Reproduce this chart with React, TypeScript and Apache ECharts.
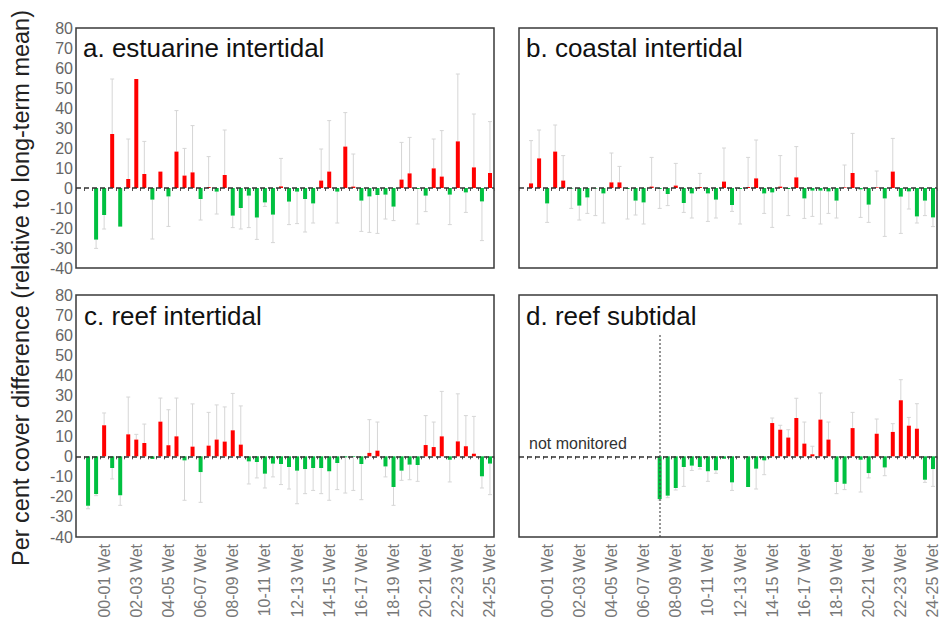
import React, { useEffect, useRef } from "react";
import * as echarts from "echarts";

const years: string[] = [
  "99-00", "00-01", "01-02", "02-03", "03-04", "04-05", "05-06", "06-07", "07-08",
  "08-09", "09-10", "10-11", "11-12", "12-13", "13-14", "14-15", "15-16", "16-17",
  "17-18", "18-19", "19-20", "20-21", "21-22", "22-23", "23-24", "24-25",
];
const seasons: string[] = ["Dry", "Wet"];
const categories: string[] = years.flatMap((y) => seasons.map((s) => `${y} ${s}`));

const yTicks = { min: -40, max: 80, step: 10 };

type V = number | null;

// a. estuarine intertidal
const estuarineVals: V[] = [
  null, null, -25.8, -13.5, 27, -19.3, 4.5, 54.5, 7, -5.8, 8.2, -4.2, 18.2, 6.2, 7.8, -5.5,
  0.5, -1.8, 6.5, -13.8, -10, -3.8, -14.7, -7.2, -13.3, 0.8, -6.8, -1.8, -5.5, -7.7, 3.7, 8.2,
  -1.8, 20.7, 0.7, -6.3, -4.2, -3.5, -3.3, -9.3, 4.2, 7.3, -0.5, -3.8, 9.8, 5.7, -3.3, 23.3,
  -2.2, 10.3, -6.7, 7.5,
];
const estuarineErr: number[] = [
  0, 0, 4.4, 7, 27.5, 0, 20, 0, 16.3, 19.7, 0, 15, 20.5, 13.6, 23.4, 10.5,
  15.2, 11.2, 22.5, 6, 10.5, 16, 11, 2, 14, 14, 11.5, 16, 16.5, 9.8, 15.8, 25.5,
  15.7, 17, 16.3, 15.4, 18, 19.2, 12.2, 7, 18.6, 18, 17.5, 8, 14.7, 23, 15, 33.7,
  10, 26.7, 19.6, 25.7,
];

// b. coastal intertidal
const coastalVals: V[] = [
  null, 2.3, 14.8, -7.7, 18.2, 3.7, -0.3, -8.8, -4.7, -0.3, -2.7, 2.8, 2.8, -0.5, -6.3, -7.2,
  0.7, -0.5, -3, 1.2, -7.5, -2.7, 0.5, -2.7, -5.8, 3.2, -8.5, -0.5, 0.5, 4.8, -2.7, -2.2,
  0.7, -0.5, 5.3, -5.2, -1.3, -1.3, -1.7, -6.3, 0.3, 7.5, -0.7, -8.3, 0.3, -5.2, 8.2, -4.3,
  -1.7, -14.2, -6.3, -14.7,
];
const coastalErr: number[] = [
  0, 21.4, 14.2, 9.5, 13.3, 12.5, 9.9, 7.2, 8, 13.5, 14.8, 14.7, 8, 15, 7.2, 10.8,
  14.6, 9.7, 5.8, 11.1, 4.7, 12.3, 6.8, 14, 9.2, 16.8, 3.2, 17.5, 14.8, 19.2, 10, 17.5,
  15.5, 13.3, 15.4, 10, 12.9, 16.7, 11, 8.7, 11.2, 19.8, 14, 8.9, 8.2, 19, 16.6, 18.4,
  8.8, 3.3, 7.5, 4.6,
];

// c. reef intertidal
const reefInterVals: V[] = [
  null, -24.5, -18.7, 15.4, -5.8, -19.3, 10.9, 8.3, 6.6, -1.3, 17.2, 5.5, 9.9, -2, 4.8, -7.8,
  5.3, 8.3, 7.3, 12.9, 5.8, -2.5, -2.8, -8.6, -3.6, -3.8, -5.3, -7.1, -6.3, -5.8, -5.8, -7.4,
  -3.3, -0.5, -0.3, -3.8, 1.7, 2.8, -5, -15.2, -7.1, -4.1, -4.3, 5.6, 4.6, 9.9, -1.7, 7.4,
  5, 1.3, -9.9, -3.6,
];
const reefInterErr: number[] = [
  0, 1.5, 0.8, 6.1, 5.4, 5, 18.5, 2.6, 9.4, 0, 11.7, 17.6, 19, 19.8, 21.2, 15,
  16.5, 17.2, 17.2, 18.3, 19.2, 11.2, 7.9, 7.1, 6.6, 10.2, 10.9, 16.4, 12.2, 11.1, 12.7, 14.4,
  13.2, 17.7, 16.6, 17.7, 16.5, 14.2, 5.2, 9.1, 4.8, 7.5, 8.1, 14.6, 12.4, 22.3, 11, 23.6,
  15.2, 18.5, 5.8, 15.4,
];

// d. reef subtidal
const reefSubVals: V[] = [
  null, null, null, null, null, null, null, null, null, null, null, null, null, null, null, null,
  null, -21.2, -19.5, -15.7, -5.3, -4.6, -5.3, -7.4, -6.9, -1.2, -12.9, null, -15.2, -6.1, -2, 16.5,
  13.2, 9.3, 19, 6.3, 1, 18.2, 8.3, -12.7, -13.6, 14, -1.7, -8.3, 11.2, -5.5, 12.1, 27.8,
  15.2, 13.7, -11.6, -6.3,
];
const reefSubErr: number[] = [
  0, 0, 0, 0, 0, 0, 0, 0, 0, 0, 0, 0, 0, 0, 0, 0,
  0, 0.5, 1, 1, 9.6, 2.4, 1, 5, 1.5, 0, 4, 0, 0, 10.1, 7.1, 2.5,
  2.2, 3.9, 9.8, 10.7, 4, 13.2, 8.7, 5.8, 2.9, 7.8, 16, 2.4, 7.3, 4.1, 4.1, 10.2,
  4.1, 12.4, 1.3, 8.6,
];

const panelTitles: string[] = [
  "a. estuarine intertidal",
  "b. coastal intertidal",
  "c. reef intertidal",
  "d. reef subtidal",
];
const notMonitoredLabel = "not monitored";
const notMonitoredUntil = 17; // category index of the start of monitoring
const yTitle = "Per cent cover difference (relative to long-term mean)";

const RED = "#ff0000";
const GREEN = "#00c040";
const ERR = "#d6d6d6";
const FONT = "'Liberation Sans', Arial, sans-serif";

const grids = [
  { left: 76, top: 28, width: 418, height: 240 },
  { left: 519, top: 28, width: 418, height: 240 },
  { left: 76, top: 295, width: 418, height: 242 },
  { left: 519, top: 295, width: 418, height: 242 },
];

export default function App() {
  const ref = useRef<HTMLDivElement>(null);

  useEffect(() => {
    document.body.style.margin = "0";
    if (!ref.current) return;
    const chart = echarts.init(ref.current, undefined, { renderer: "svg" });

    const panels = [
      { vals: estuarineVals, err: estuarineErr },
      { vals: coastalVals, err: coastalErr },
      { vals: reefInterVals, err: reefInterErr },
      { vals: reefSubVals, err: reefSubErr },
    ];

    const series: any[] = [];
    panels.forEach((p, k) => {
      const markData: any[] = [
        { yAxis: 0, lineStyle: { type: [5, 3], color: "#333", width: 1.5 } },
      ];
      if (k === 3) {
        markData.push([
          {
            coord: [categories[notMonitoredUntil], 60],
            lineStyle: { type: [1.5, 2.5], color: "#444", width: 1.5 },
          },
          { coord: [categories[notMonitoredUntil], yTicks.min] },
        ]);
      }
      series.push({
        type: "custom",
        xAxisIndex: k,
        yAxisIndex: k,
        z: 2,
        silent: true,
        data: p.vals
          .map((v, i) => (v == null || !p.err[i] ? null : [i, v, v >= 0 ? v + p.err[i] : v - p.err[i]]))
          .filter((d) => d != null),
        encode: { x: 0, y: [1, 2] },
        renderItem: (params: any, api: any) => {
          const a = api.coord([api.value(0), api.value(1)]);
          const b = api.coord([api.value(0), api.value(2)]);
          const st = { stroke: ERR, lineWidth: 1 };
          return {
            type: "group",
            children: [
              { type: "line", shape: { x1: a[0], y1: a[1], x2: b[0], y2: b[1] }, style: st },
              { type: "line", shape: { x1: b[0] - 2, y1: b[1], x2: b[0] + 2, y2: b[1] }, style: st },
            ],
          };
        },
      });
      series.push({
        type: "bar",
        xAxisIndex: k,
        yAxisIndex: k,
        z: 3,
        barWidth: 4,
        silent: true,
        data: p.vals.map((v) =>
          v == null ? "-" : { value: v, itemStyle: { color: v >= 0 ? RED : GREEN } }
        ),
        markLine: {
          silent: true,
          symbol: "none",
          label: { show: false },
          data: markData,
        },
      });
    });

    const titlePos = [
      [83, 48],
      [526, 48],
      [84, 316],
      [526, 316],
    ];

    chart.setOption({
      animation: false,
      textStyle: { fontFamily: FONT },
      grid: grids.map((g) => ({
        ...g,
        show: true,
        borderColor: "#3a3a3a",
        borderWidth: 1.5,
        containLabel: false,
        outerBoundsMode: "none",
      })),
      xAxis: grids.map((_, k) => ({
        type: "category",
        gridIndex: k,
        data: categories,
        boundaryGap: true,
        axisLine: { show: false },
        axisTick: {
          show: true,
          interval: 0,
          length: 3,
          lineStyle: { color: "#555", width: 1 },
        },
        axisLabel: {
          show: k >= 2,
          rotate: 90,
          interval: (index: number) => index % 4 === 3,
          color: "#777",
          fontSize: 16,
          fontFamily: FONT,
          margin: 7,
        },
        splitLine: { show: false },
      })),
      yAxis: grids.map((_, k) => ({
        type: "value",
        gridIndex: k,
        min: yTicks.min,
        max: yTicks.max,
        interval: yTicks.step,
        axisLine: { show: false },
        axisTick: { show: false },
        splitLine: { show: false },
        axisLabel: {
          show: k % 2 === 0,
          color: "#666",
          fontSize: 16,
          fontFamily: FONT,
          margin: 3,
        },
      })),
      series,
      graphic: [
        ...panelTitles.map((t, k) => ({
          type: "text",
          x: titlePos[k][0],
          y: titlePos[k][1],
          style: {
            text: t,
            fontSize: 26,
            fontFamily: FONT,
            fill: "#111",
            textVerticalAlign: "middle",
          },
        })),
        {
          type: "text",
          x: 529,
          y: 443,
          style: {
            text: notMonitoredLabel,
            fontSize: 16,
            fontFamily: FONT,
            fill: "#333",
            textVerticalAlign: "middle",
          },
        },
        {
          type: "text",
          x: 21,
          y: 288,
          rotation: Math.PI / 2,
          style: {
            text: yTitle,
            fontSize: 23.5,
            fontFamily: FONT,
            fill: "#222",
            textAlign: "center",
            textVerticalAlign: "middle",
          },
        },
      ],
    });

    return () => chart.dispose();
  }, []);

  return <div ref={ref} style={{ width: 940, height: 620 }} />;
}
